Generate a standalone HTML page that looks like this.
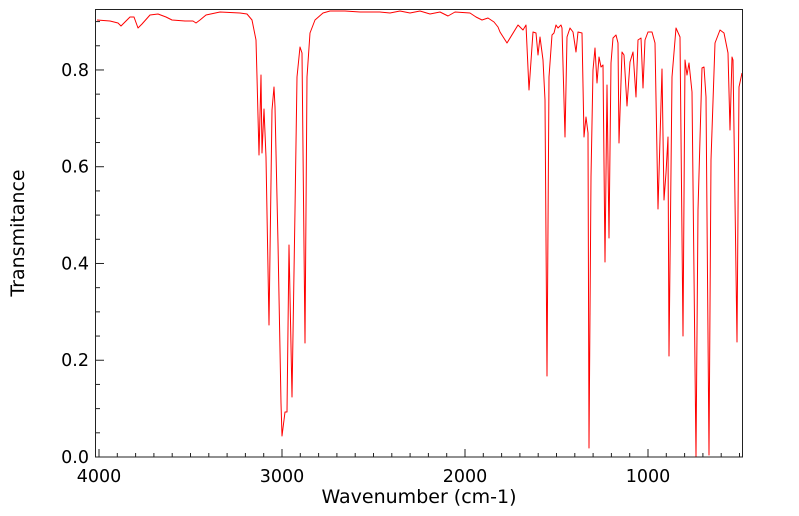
<!DOCTYPE html>
<html><head><meta charset="utf-8"><style>
body{margin:0;background:#fff;}
svg{display:block;font-family:"DejaVu Sans","Liberation Sans",sans-serif;}
</style></head><body>
<svg width="799" height="516" viewBox="0 0 799 516">
<rect x="0" y="0" width="799" height="516" fill="#fff"/>
<polyline fill="none" stroke="#ff0000" stroke-width="1" stroke-linejoin="round" points="
97,20 110,21 118,23 121,26 124,23 130,17 134,17 138,28 142,24 150,15 158,14 166,17 172,20 185,21 193,21 196,23 200,20 206,15 220,12 240,13 247,14 252,20 256,40 257,77 259,155 261,75 262,153 264,109 266,157 269,325 272,110 274,87 275,107 278,243 281,403 282,436 285,412 287,412 289,245 292,397 295,210 297,77 300,47 302,53 305,343 307,77 310,33 315,20 323,13 330,11 345,11 360,12 380,12 390,13 400,11 410,13 420,11 430,14 440,12 448,16 455,12 470,13 476,17 482,20 488,18 494,22 498,27 500,32 507,43 518,25 523,30 526,25 529,90 533,32 536,33 538,55 540,37 543,60 545,100 547,376 549,77 552,35 554,33 556,25 558,28 561,25 562,28 565,137 567,37 570,28 573,32 576,52 578,32 582,33 584,137 586,117 588,133 589,448 591,177 593,70 595,48 597,83 599,57 601,67 603,65 605,262 607,85 609,238 611,63 613,38 616,35 618,43 619,143 622,52 624,55 627,106 630,62 633,52 636,97 638,40 641,38 643,88 645,40 648,32 652,32 655,43 658,209 662,69 663,135 664,200 666,173 668,137 669,356 672,77 676,28 680,37 683,336 685,60 687,75 689,63 692,92 696,457 698,210 702,68 704,67 706,97 709,455 711,160 715,43 720,30 724,33 728,53 730,130 732,57 733,60 737,342 739,87 742,73"/>
<rect x="95.5" y="9.5" width="647" height="447.5" fill="none" stroke="#222" stroke-width="1"/>
<g stroke="#222" stroke-width="1" id="ticks"></g>
<g font-size="17.5" fill="#000" text-anchor="end" id="ylab"></g>
<g font-size="17.5" fill="#000" text-anchor="middle" id="xlab"></g>
<text x="419" y="503" font-size="19" text-anchor="middle">Wavenumber (cm-1)</text>
<text transform="translate(24,233) rotate(-90)" font-size="19" text-anchor="middle">Transmitance</text>
</svg>
<script>
var ns="http://www.w3.org/2000/svg";
var t=document.getElementById("ticks"),yl=document.getElementById("ylab"),xl=document.getElementById("xlab");
function L(x1,y1,x2,y2){var l=document.createElementNS(ns,"line");l.setAttribute("x1",x1);l.setAttribute("y1",y1);l.setAttribute("x2",x2);l.setAttribute("y2",y2);t.appendChild(l);}
function T(g,x,y,s){var e=document.createElementNS(ns,"text");e.setAttribute("x",x);e.setAttribute("y",y);e.textContent=s;g.appendChild(e);}
for(var i=0;i<=18;i++){var y=457-i*24.19;L(95.5,y,i%4==0?104:100,y);if(i%4==0)T(yl,89,y+6,(i*0.05).toFixed(1));}
for(var w=4000;w>=500;w-=100){var x=99+(4000-w)*0.183;if(x>742)break;L(x,457,x,w%1000==0?449:453);if(w%1000==0)T(xl,x,482,w);}
</script>
</body></html>
